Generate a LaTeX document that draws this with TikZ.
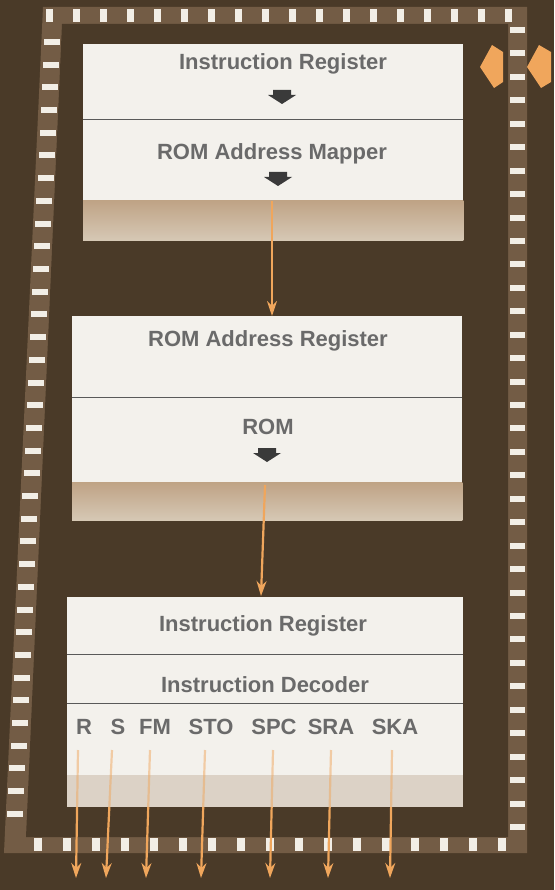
\documentclass[tikz,border=0pt]{standalone}
\usepackage{fontspec}
\setmainfont{Liberation Sans}
\usepackage{tikz}
\usetikzlibrary{arrows.meta,shapes}
\usepackage{xcolor}
\definecolor{bgbrown}{HTML}{4A3A28}
\definecolor{stripbrown}{HTML}{735C45}
\definecolor{markwhite}{HTML}{F2EEE6}
\definecolor{boxwhite}{HTML}{F3F1EC}
\definecolor{bandtop}{HTML}{BFA385}
\definecolor{bandbot}{HTML}{D6C8B5}
\definecolor{bandlight}{HTML}{DCD2C6}
\definecolor{txtgrey}{HTML}{6A6A6A}
\definecolor{arrgrey}{HTML}{3A3A3A}
\definecolor{sigorange}{HTML}{F0A65C}

\tikzset{darr/.pic={\fill[arrgrey] (-9,-7) -- (9,-7) -- (9,-2) -- (14,-2) -- (0,7) -- (-14,-2) -- (-9,-2) -- cycle;}}

\begin{document}
\begin{tikzpicture}[x=1pt, y=-1pt,
  box/.style={fill=boxwhite, inner sep=0, anchor=north west},
  lbl/.style={text=txtgrey, font=\fontsize{22}{26}\selectfont\bfseries, inner sep=0},
  divline/.style={draw=black!65, line width=0.9pt},
  sig/.style={draw=sigorange, line width=2.2pt, -{Stealth[length=15pt,width=10pt]}},
  band/.style={top color=bandtop, bottom color=bandbot},
  vmark/.style={fill=markwhite},
  hmark/.style={fill=markwhite}]
\useasboundingbox (0,0) rectangle (554,890);
\fill[bgbrown] (0,0) rectangle (554,890);

% frame with its pins
\fill[stripbrown] (43,7) -- (527,7) -- (527,853) -- (4,853) -- cycle;
\fill[bgbrown] (62,24) -- (508,24) -- (508,837) -- (26,837) -- cycle;
\foreach \i in {0,...,17}
  \fill[vmark] ({49+27*\i-3.5},9) rectangle ++(7,13);
\foreach \i in {0,...,16}
  \fill[vmark] ({38+29*\i-4},838) rectangle ++(8,13);
\foreach \i in {0,...,34}
  \fill[hmark] (510,{30+23.44*\i-3}) rectangle ++(15,6);
\foreach \i in {0,...,34}{
  \pgfmathsetmacro\yy{42+22.7*\i}
  \pgfmathsetmacro\xx{52-(\yy-42)*0.0475}
  \fill[hmark] ({\xx-8},{\yy-3}) rectangle ++(16,6);
}

% input marks on the right
\fill[sigorange] (480,67) -- (492,45) -- (503,52) -- (503,82) -- (494,88) -- cycle;
\fill[sigorange] (527,67) -- (539,45) -- (551,52) -- (551,82) -- (541,88) -- cycle;

% block 1
\node[box, minimum width=380pt, minimum height=196pt] (b1) at (83,44) {};
\shade[band] ([yshift=40pt]b1.south west) rectangle (b1.south east);
\draw[divline] (83,119) -- (463,119);
\node[lbl] (ir1) at (283,64) {Instruction Register};
\pic at (282,97) {darr};
\node[lbl] (map) at (272,154) {ROM Address Mapper};
\pic at (278,179) {darr};

% block 2
\node[box, minimum width=390pt, minimum height=204pt] (b2) at (72,316) {};
\shade[band] ([yshift=38pt]b2.south west) rectangle (b2.south east);
\draw[divline] (72,397) -- (462,397);
\node[lbl] (rar) at (268,341) {ROM Address Register};
\node[lbl] (rom) at (268,427) {ROM};
\pic at (267,455) {darr};

% block 3
\node[box, minimum width=396pt, minimum height=210pt] (b3) at (67,597) {};
\fill[bandlight] ([yshift=32pt]b3.south west) rectangle (b3.south east);
\draw[divline] (67,654) -- (463,654);
\draw[divline] (67,703) -- (463,703);
\node[lbl] (ir2) at (263,626) {Instruction Register};
\node[lbl] (dec) at (265,685) {Instruction Decoder};

% signal lines
\coordinate (m1) at (272,201);
\draw[sig] (m1) -- (m1 |- b2.north);
\coordinate (m2) at (265,485);
\coordinate (m3) at (261,596);
\draw[sig] (m2) -- (m3);
\foreach \n/\lx/\ax/\bx in {R/84/78/76, S/118/112/106, FM/155/150/146,
    STO/211/205/201, SPC/274/273/270, SRA/331/331/328, SKA/395/392/390}{
  \node[lbl] (l\n) at (\lx,727) {\n};
  \coordinate (s\n) at (\ax,750);
  \coordinate (e\n) at (\bx,878);
  \draw[sig] (s\n) -- (e\n);
}
% lines seen through the decoder block
\fill[boxwhite, opacity=0.5] (67,745) rectangle (463,775);
\fill[bandlight, opacity=0.5] (67,775) rectangle (b3.south east);
\end{tikzpicture}
\end{document}
